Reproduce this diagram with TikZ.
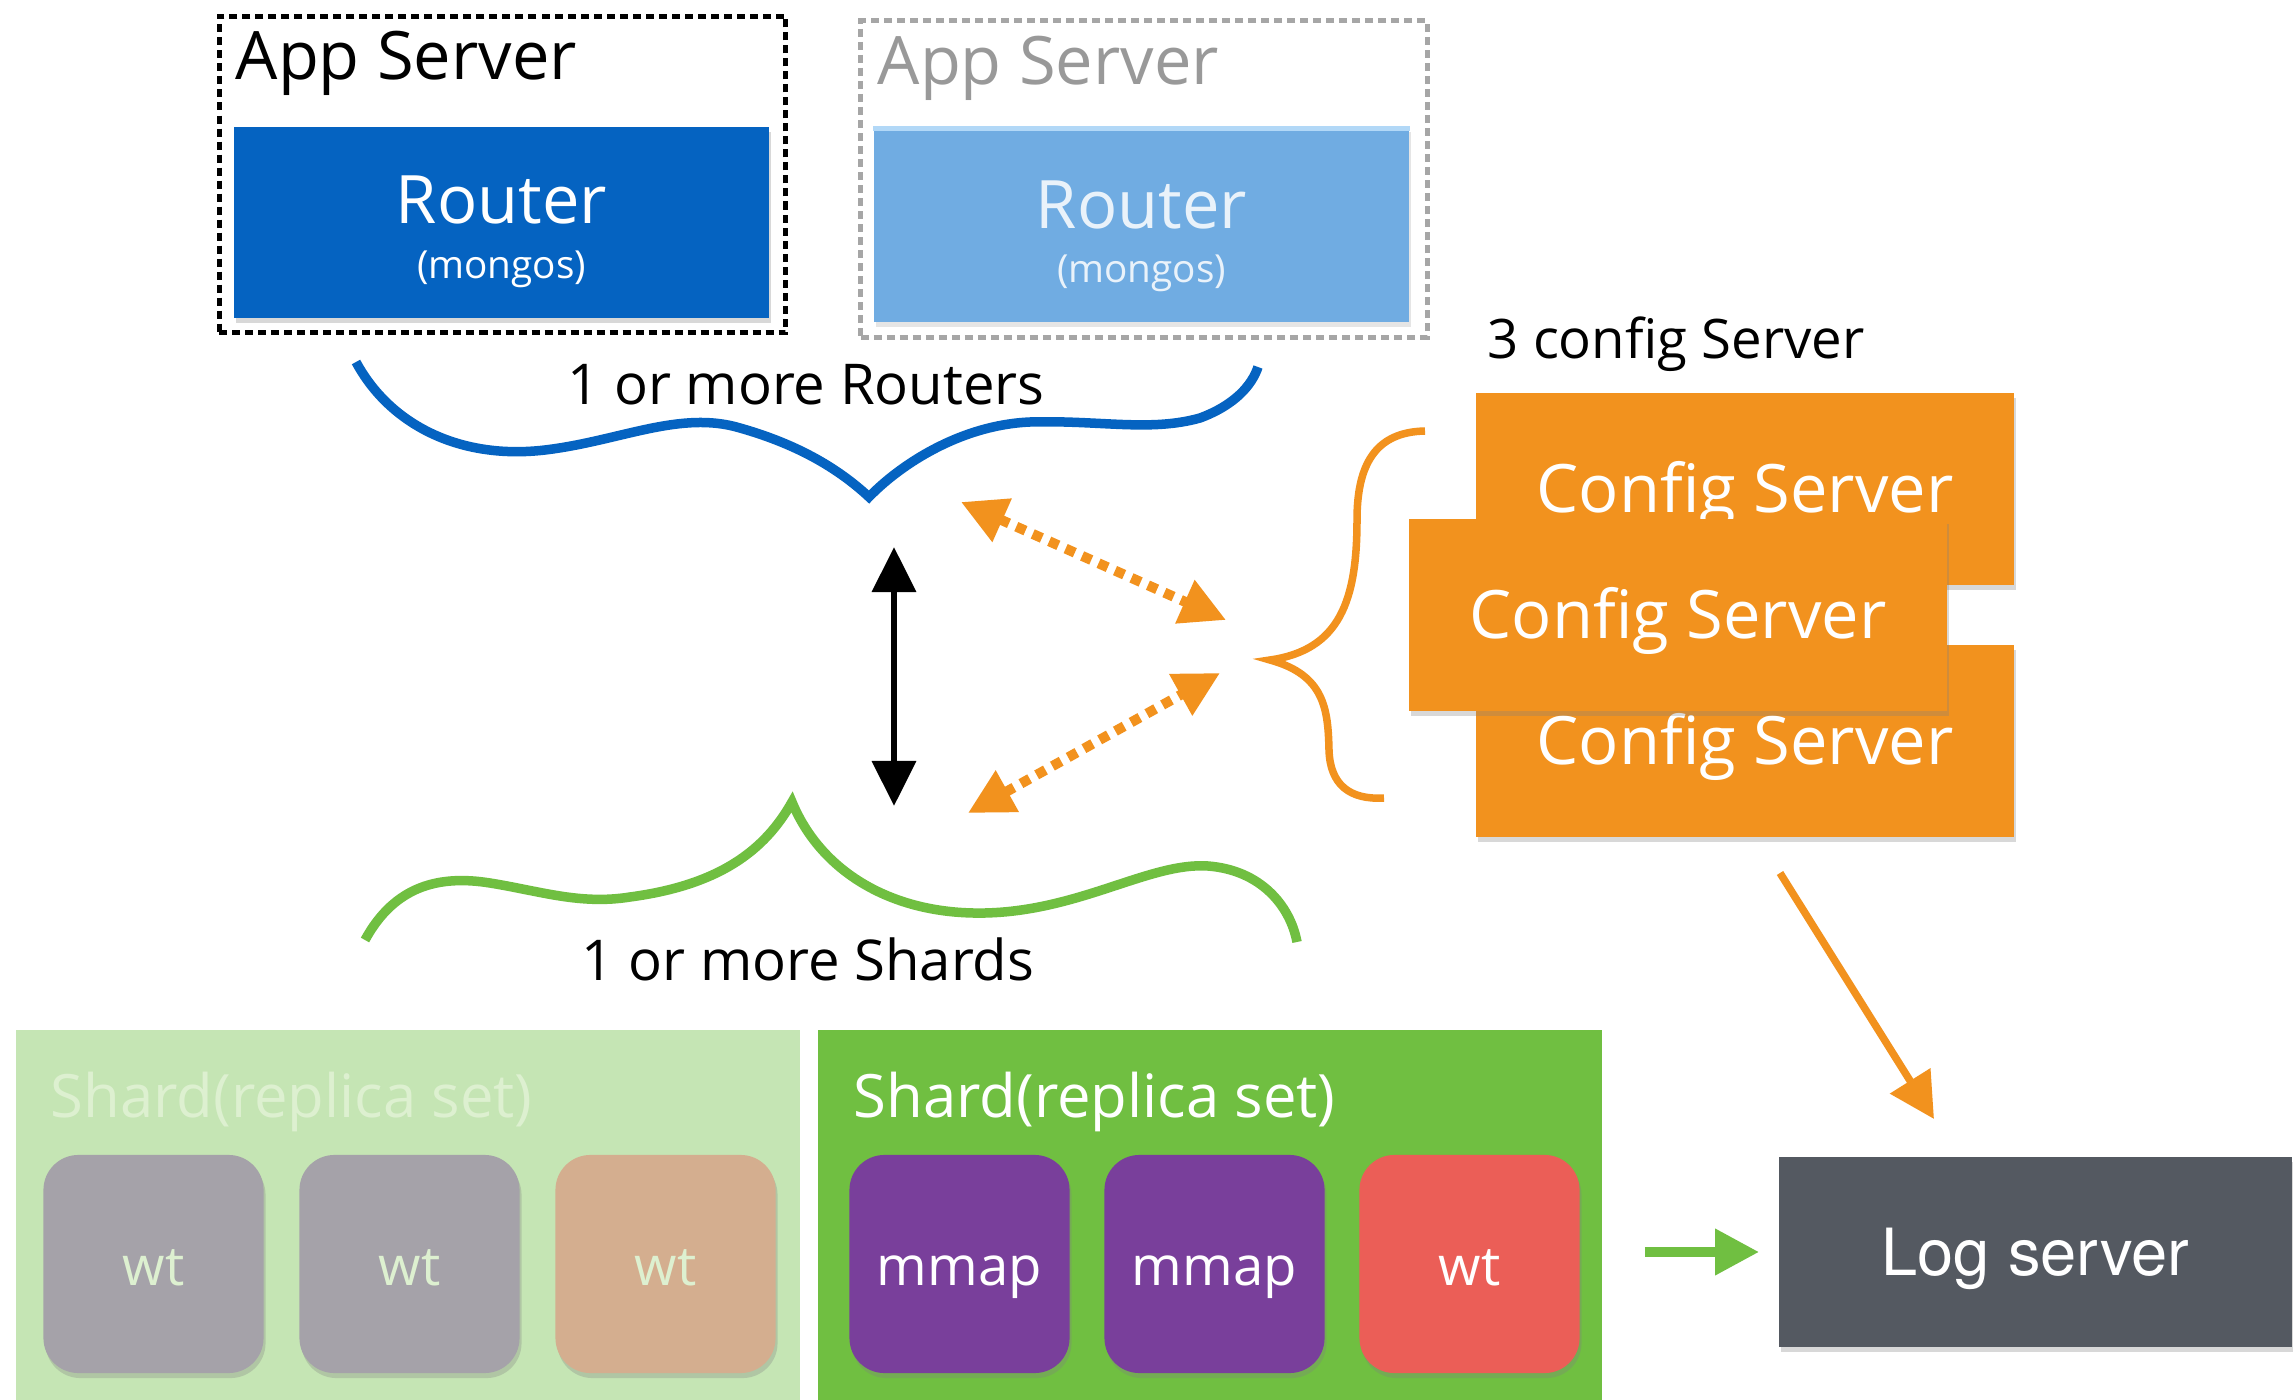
\documentclass[tikz,border=0pt]{standalone}
\usepackage{fontspec}
\setmainfont{Open Sans}
\newfontfamily\logfont{TeX Gyre Heros}
\usetikzlibrary{positioning,shadows,calc,arrows.meta}
\definecolor{routerblue}{RGB}{5,99,193}
\definecolor{routerlight}{RGB}{112,172,226}
\definecolor{routerstrip}{RGB}{178,216,247}
\definecolor{appgray}{RGB}{153,153,153}
\definecolor{boxgray}{RGB}{166,166,166}
\definecolor{cfgorange}{RGB}{242,146,30}
\definecolor{shardlight}{RGB}{197,229,180}
\definecolor{shardgreen}{RGB}{112,191,65}
\definecolor{cardgray}{RGB}{165,162,169}
\definecolor{cardtan}{RGB}{212,174,143}
\definecolor{mmappurple}{RGB}{121,63,155}
\definecolor{wtred}{RGB}{235,94,87}
\definecolor{logslate}{RGB}{84,89,97}
\definecolor{paletext}{RGB}{221,240,208}

\begin{document}
\begin{tikzpicture}[x=0.01cm, y=-0.01cm,
    appbox/.style={line width=0.05cm, dash pattern=on 0.08cm off 0.05cm, minimum width=5.66cm, minimum height=3.16cm},
    router/.style={minimum width=5.35cm, inner sep=0pt},
    txt/.style={inner sep=0pt},
    cfg/.style={fill=cfgorange, text=white, font=\fontsize{19}{23}\selectfont, minimum width=5.37cm, minimum height=1.92cm,
        text height=13.6pt, text depth=0pt, drop shadow={shadow xshift=0.02cm, shadow yshift=-0.05cm, opacity=.3}},
    panel/.style={minimum width=7.84cm, minimum height=3.8cm, inner sep=0pt},
    card/.style={rounded corners=0.35cm, minimum width=2.2cm, minimum height=2.18cm, font=\fontsize{15.5}{19}\selectfont,
        text height=0.42cm, text depth=0pt, drop shadow={shadow xshift=0.02cm, shadow yshift=-0.05cm, opacity=.3}},
    brace/.style={line width=0.095cm},
    dotarrow/.style={draw=cfgorange, line width=0.1cm, dash pattern=on 0.1cm off 0.08cm,
        {Triangle[length=0.45cm, width=0.45cm]}-{Triangle[length=0.45cm, width=0.45cm]}}
]
    \fill[white] (0,0) rectangle (2293,1400);
    \useasboundingbox (0,0) rectangle (2293,1400);

    % app servers
    \node[appbox, draw=black] (app1) at (502.5,174.5) {};
    \node[appbox, draw=boxgray] (app2) at (1144,179) {};
    \node[txt, anchor=base west, font=\fontsize{19}{23}\selectfont] (app1t) at (235,80) {App Server};
    \node[txt, anchor=base west, font=\fontsize{19}{23}\selectfont, text=appgray] (app2t) at (877,85) {App Server};

    \node[router, fill=routerblue, minimum height=1.91cm,
        drop shadow={shadow xshift=0.02cm, shadow yshift=-0.05cm, opacity=.3}] (router1) at (501.5,222.5) {};
    \node[txt, anchor=base, text=white, font=\fontsize{19}{23}\selectfont] (router1t) at ($(router1.center)+(0,1)$) {Router};
    \node[txt, anchor=base, text=white, font=\fontsize{11}{13}\selectfont] (mongos1) at ($(router1.center)+(0,56)$) {(mongos)};

    \node[router, fill=routerlight, minimum height=1.95cm,
        drop shadow={shadow xshift=0.02cm, shadow yshift=-0.05cm, opacity=.2}] (router2) at (1141.5,224.5) {};
    \fill[routerstrip] (router2.north west) rectangle ($(router2.north east)+(0,5)$);
    \node[txt, anchor=base, text=white, opacity=.85, font=\fontsize{19}{23}\selectfont] (router2t) at ($(router2.center)+(0,4.5)$) {Router};
    \node[txt, anchor=base, text=white, opacity=.85, font=\fontsize{11}{13}\selectfont] (mongos2) at ($(router2.center)+(0,58.5)$) {(mongos)};

    % braces
    \draw[brace, routerblue] (356,362) .. controls (390,425) and (460,460) .. (545,450)
        .. controls (620,441) and (680,410) .. (740,428)
        .. controls (800,445) and (840,470) .. (869,497)
        .. controls (900,465) and (960,425) .. (1030,422)
        .. controls (1100,420) and (1150,432) .. (1200,418)
        .. controls (1235,405) and (1252,385) .. (1258,367);
    \node[txt, anchor=base, font=\fontsize{16}{20}\selectfont] (routers) at (806,404) {1 or more Routers};

    \draw[brace, shardgreen] (365,940) .. controls (395,885) and (440,875) .. (490,883)
        .. controls (540,891) and (580,905) .. (630,897)
        .. controls (720,885) and (765,850) .. (792,802)
        .. controls (820,870) and (890,915) .. (985,913)
        .. controls (1080,911) and (1150,862) .. (1208,866)
        .. controls (1260,870) and (1290,905) .. (1297,942);
    \node[txt, anchor=base, font=\fontsize{16}{20}\selectfont] (shards) at (808,980) {1 or more Shards};

    \draw[line width=0.075cm, cfgorange] (1425,431) .. controls (1375,432) and (1357,465) .. (1357,520)
        .. controls (1357,600) and (1340,650) .. (1270,660)
        .. controls (1325,675) and (1328,710) .. (1329,750)
        .. controls (1330,785) and (1350,800) .. (1384,798);

    % config servers
    \node[txt, anchor=base west, font=\fontsize{15.5}{19}\selectfont] (cfgt) at (1487,359) {3 config Server};
    \foreach \nm/\x/\y in {cfgA/1745/489, cfgC/1745/741, cfgB/1678/615} {
        \node[cfg] (\nm) at (\x,\y) {Config Server};
    }

    % connectors
    \coordinate (rc1) at (961,502);
    \coordinate (rc2) at (1226,620);
    \coordinate (sc1) at (968,813);
    \coordinate (sc2) at (1220,673);
    \coordinate (rs1) at (894,547);
    \coordinate (rs2) at (894,806);
    \coordinate (cl1) at (1780,873);
    \coordinate (cl2) at (1934,1119);
    \draw[dotarrow] (rc1) -- (rc2);
    \draw[dotarrow] (sc1) -- (sc2);
    \draw[line width=0.065cm, {Triangle[length=0.45cm, width=0.43cm]}-{Triangle[length=0.45cm, width=0.43cm]}] (rs1) -- (rs2);

    % shards
    \node[panel, fill=shardlight] (shard1) at (408,1220) {};
    \node[panel, fill=shardgreen] (shard2) at (1210,1220) {};
    \node[txt, anchor=base west, text=paletext, font=\fontsize{17}{21}\selectfont] (shard1t) at (50,1117) {Shard(replica set)};
    \node[txt, anchor=base west, text=white, font=\fontsize{17}{21}\selectfont] (shard2t) at (853,1117) {Shard(replica set)};

    \foreach \lab/\col [count=\c] in {wt/cardgray, wt/cardgray, wt/cardtan} {
        \node[card, fill=\col, text=paletext] (lcard\c) at ({153.5+256*(\c-1)},1264) {\lab};
    }
    \foreach \lab/\col [count=\c] in {mmap/mmappurple, mmap/mmappurple, wt/wtred} {
        \node[card, fill=\col, text=white] (rcard\c) at ({959.5+255*(\c-1)},1264) {\lab};
    }

    % log server
    \node[fill=logslate, text=white, minimum width=5.13cm, minimum height=1.9cm, text height=13.3pt, text depth=0pt,
        font=\logfont\fontsize{18.5}{22}\selectfont,
        drop shadow={shadow xshift=0.02cm, shadow yshift=-0.05cm, opacity=.3}] (log) at (2035.5,1252) {Log server};
    \draw[cfgorange, line width=0.075cm, -{Triangle[length=0.45cm, width=0.46cm]}] (cl1) -- (cl2);
    \draw[shardgreen, line width=0.1cm, shorten <=0.42cm, shorten >=0.19cm, -{Triangle[length=0.44cm, width=0.44cm]}]
        (shard2.east |- log.west) -- (log.west);
\end{tikzpicture}
\end{document}
